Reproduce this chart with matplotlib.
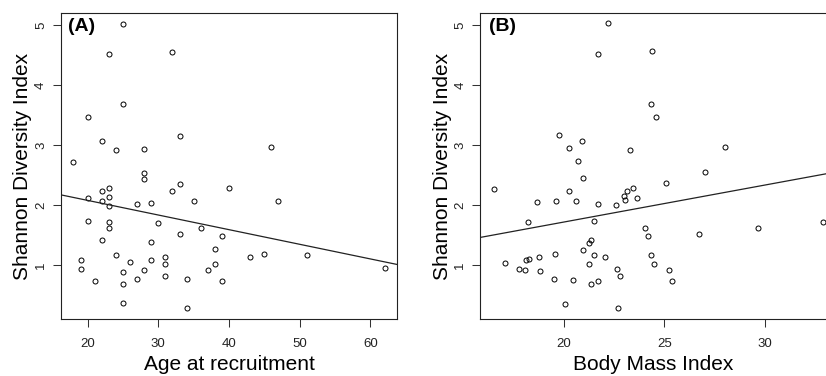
import matplotlib
matplotlib.use("Agg")
import matplotlib.pyplot as plt
import numpy as np

plt.rcParams['font.family'] = ['Liberation Sans', 'DejaVu Sans']

# Panel A: age at recruitment vs Shannon index
age = [25, 23, 32, 25, 20, 22, 33, 24, 28, 18,
       28, 28, 33, 32, 40, 22, 23, 23, 20, 22,
       23, 27, 29, 35, 20, 23, 23, 30, 36, 33,
       39, 22, 29, 24, 31, 38, 19, 19, 26, 29,
       31, 38, 25, 28, 37, 21, 27, 31, 34, 39,
       25, 25, 34, 46, 47, 43, 45, 51, 62]
shannon_a = [5.02, 4.51, 4.55, 3.68, 3.46, 3.06, 3.15, 2.91, 2.94, 2.72,
             2.54, 2.44, 2.35, 2.24, 2.28, 2.24, 2.28, 2.14, 2.12, 2.07,
             1.98, 2.02, 2.04, 2.06, 1.74, 1.72, 1.62, 1.70, 1.62, 1.51,
             1.49, 1.41, 1.38, 1.16, 1.14, 1.26, 1.09, 0.94, 1.05, 1.08,
             1.01, 1.02, 0.89, 0.91, 0.92, 0.74, 0.77, 0.82, 0.76, 0.74,
             0.69, 0.36, 0.28, 2.96, 2.07, 1.13, 1.19, 1.16, 0.95]
fit_a = (2.565, -0.0244)  # intercept, slope

# Panel B: BMI vs Shannon index
bmi = [22.22, 21.69, 24.38, 24.36, 24.58, 19.75, 20.91, 20.28, 23.30, 28.01,
       20.70, 20.95, 16.52, 20.28, 23.43, 23.13, 22.97, 23.63, 23.05, 18.67,
       19.62, 20.58, 21.72, 22.60, 27.03, 25.07, 18.21, 21.49, 24.04, 24.21,
       26.73, 29.67, 32.92, 21.36, 21.27, 20.95, 19.58, 18.76, 21.52, 22.05,
       17.09, 18.12, 18.27, 21.24, 17.79, 18.06, 18.79, 22.64, 22.80, 24.36,
       24.49, 25.24, 25.40, 19.50, 20.46, 21.36, 21.72, 20.08, 22.69]
shannon_b = [5.03, 4.52, 4.56, 3.68, 3.47, 3.16, 3.06, 2.95, 2.91, 2.96,
             2.73, 2.45, 2.27, 2.24, 2.29, 2.23, 2.15, 2.12, 2.08, 2.05,
             2.06, 2.07, 2.02, 2.00, 2.55, 2.36, 1.72, 1.73, 1.61, 1.49,
             1.51, 1.61, 1.71, 1.41, 1.37, 1.25, 1.19, 1.13, 1.17, 1.13,
             1.04, 1.08, 1.10, 1.02, 0.94, 0.92, 0.90, 0.93, 0.82, 1.16,
             1.02, 0.92, 0.74, 0.77, 0.75, 0.68, 0.74, 0.35, 0.28]
fit_b = (0.484, 0.0616)

xticks_a = [20, 30, 40, 50, 60]
xticks_b = [20, 25, 30]
yticks = [1, 2, 3, 4, 5]

W, H = 826, 376
fig = plt.figure(figsize=(W / 100, H / 100), dpi=100)

def px_axes(l, r, t, b):
    return fig.add_axes([l / W, (H - b) / H, (r - l) / W, (b - t) / H])

axA = px_axes(61, 397, 13, 319)
axB = px_axes(480.3, 826, 13, 319)

def style(ax, x, y, fit, xticks, xlim, xlabel, tag, tagx, right_spine=True):
    ax.plot(x, y, linestyle='none', marker='o', mfc='none', mec='black',
            ms=3.6, mew=0.7)
    ax.axline((0, fit[0]), slope=fit[1], color='#222222', lw=0.9)
    ax.set_xlim(*xlim)
    ax.set_ylim(0.1, 5.2)
    ax.set_xticks(xticks)
    ax.set_yticks(yticks)
    ax.tick_params(axis='both', direction='out', length=5.5, width=0.75,
                   labelsize=9.5, labelcolor='#222222', color='#333333')
    ax.tick_params(axis='x', pad=8.5)
    ax.tick_params(axis='y', pad=4.5, labelrotation=90)
    for lab in ax.get_yticklabels():
        lab.set_va('center')
    for s in ax.spines.values():
        s.set_linewidth(0.8)
        s.set_color('#222222')
    if not right_spine:
        ax.spines['right'].set_visible(False)
    ax.set_xlabel(xlabel, fontsize=15, labelpad=3.5)
    ax.set_ylabel('Shannon Diversity Index', fontsize=15, labelpad=2)
    ax.text(tagx, 0.985, tag, transform=ax.transAxes, ha='left', va='top',
            fontsize=14, fontweight='bold')

style(axA, age, shannon_a, fit_a, xticks_a, (16.24, 63.76),
      'Age at recruitment', '(A)', 0.02)
style(axB, bmi, shannon_b, fit_b, xticks_b, (15.84, 33.05),
      'Body Mass Index', '(B)', 0.025, right_spine=False)

fig.savefig('out.png', dpi=100)
